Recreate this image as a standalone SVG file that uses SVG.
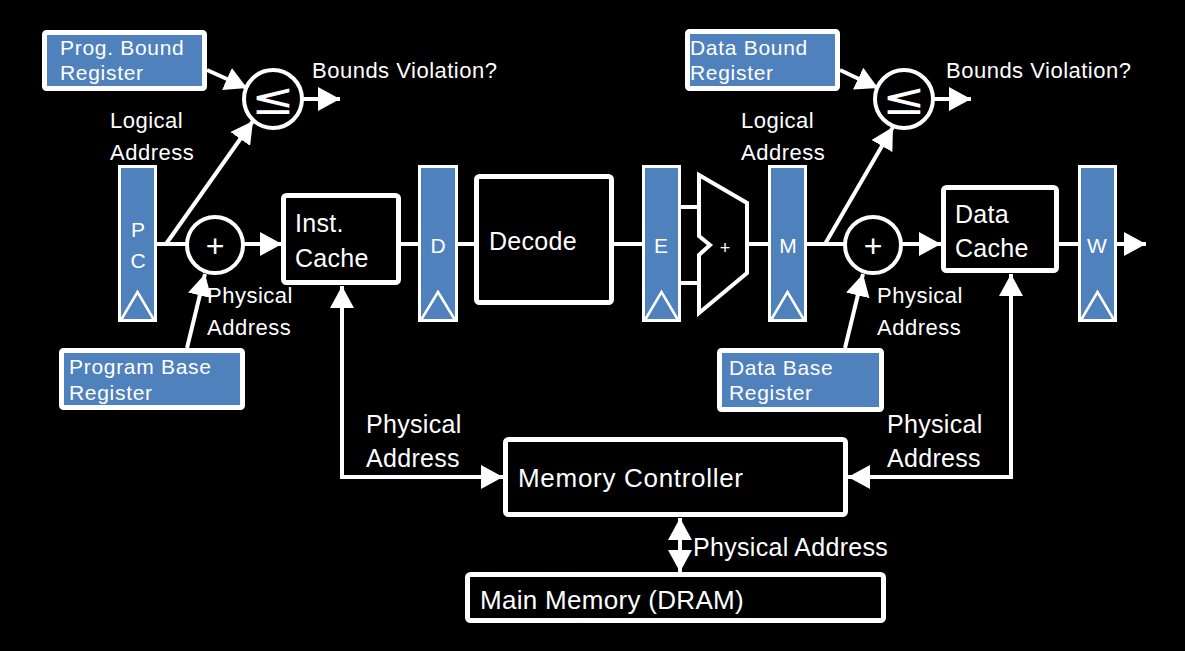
<svg xmlns="http://www.w3.org/2000/svg" width="1185" height="651" viewBox="0 0 1185 651">
<style>
  text { font-family: "Liberation Sans", Arial, sans-serif; fill: #ffffff; }
  .sm { font-size: 22px; letter-spacing: 0.5px; }
  .lg { font-size: 25px; letter-spacing: 0.3px; }
  .reg-t { font-size: 21px; letter-spacing: 0.7px; }
  .ltr { font-size: 21px; text-anchor: middle; }
  .blue { fill: #4F81BD; stroke: #ffffff; stroke-width: 5; }
  .blk { fill: #000000; stroke: #ffffff; stroke-width: 5; }
  .reg { fill: #4F81BD; stroke: #ffffff; stroke-width: 3; }
  .clk { fill: none; stroke: #ffffff; stroke-width: 2.5; }
  .op { fill: #000000; stroke: #ffffff; stroke-width: 4; }
  .sym { text-anchor: middle; }
  .le { font-family: "DejaVu Sans", sans-serif; font-size: 40px; text-anchor: middle; }
  .wire { fill: none; stroke: #ffffff; stroke-width: 4; }
  .arr { marker-end: url(#ah); }
  .arr2 { marker-start: url(#ah); marker-end: url(#ah); }
</style>
<defs>
  <marker id="ah" viewBox="0 0 22 24" refX="22" refY="12" markerWidth="22" markerHeight="24" markerUnits="userSpaceOnUse" orient="auto-start-reverse">
    <path d="M0,0 L22,12 L0,24 z" fill="#ffffff"/>
  </marker>
</defs>
<rect x="0" y="0" width="1185" height="651" fill="#000000"/>

<g id="connectors">
  <line class="wire arr" x1="207" y1="70" x2="247" y2="88"/>
  <line class="wire arr" x1="301" y1="99" x2="340" y2="99"/>
  <line class="wire" x1="157" y1="244" x2="188" y2="244"/>
  <line class="wire arr" x1="166" y1="244" x2="253" y2="121"/>
  <line class="wire arr" x1="243" y1="244" x2="282" y2="244"/>
  <line class="wire arr" x1="187" y1="348" x2="205" y2="274"/>
  <path class="wire arr2" d="M342,286 L342,477 L503,477"/>
  <line class="wire" x1="401" y1="244" x2="418" y2="244"/>
  <line class="wire" x1="458" y1="244" x2="474" y2="244"/>
  <line class="wire" x1="614" y1="244" x2="642" y2="244"/>
  <line class="wire" x1="681" y1="207" x2="699" y2="207"/>
  <line class="wire" x1="681" y1="283" x2="699" y2="283"/>
  <line class="wire" x1="747" y1="244" x2="768" y2="244"/>
  <line class="wire" x1="807" y1="244" x2="846" y2="244"/>
  <line class="wire arr" x1="825" y1="244" x2="893" y2="127"/>
  <line class="wire arr" x1="901" y1="244" x2="941" y2="244"/>
  <line class="wire arr" x1="845" y1="348" x2="863" y2="274"/>
  <line class="wire" x1="1059" y1="244" x2="1078" y2="244"/>
  <line class="wire arr" x1="1117" y1="244" x2="1146" y2="244"/>
  <path class="wire arr2" d="M1011,274 L1011,477 L848,477"/>
  <line class="wire arr" x1="840" y1="70" x2="878" y2="88"/>
  <line class="wire arr" x1="932" y1="99" x2="971" y2="99"/>
  <line class="wire arr2" x1="680" y1="518" x2="680" y2="572"/>
</g>

<g id="prog-bound-register">
  <rect class="blue" x="44.5" y="32.5" width="160" height="56" rx="2"/>
  <text class="reg-t" x="60" y="55">Prog. Bound</text>
  <text class="reg-t" x="60" y="80">Register</text>
</g>
<g id="prog-compare">
  <circle class="op" cx="273" cy="99" r="29"/>
  <text class="le" transform="translate(273,114) scale(1.3,1.1)" x="0" y="0">≤</text>
</g>
<g id="pc-register">
  <rect class="reg" x="119.5" y="166.5" width="36" height="154"/>
  <polyline class="clk" points="121,320 137.5,292 154,320"/>
  <text class="ltr" x="138" y="237">P</text>
  <text class="ltr" x="138" y="268">C</text>
</g>
<g id="prog-adder">
  <circle class="op" cx="215" cy="245" r="28"/>
  <text class="sym" x="215" y="257" style="font-size:32px">+</text>
</g>
<g id="program-base-register">
  <rect class="blue" x="61.5" y="350.5" width="181" height="57" rx="2"/>
  <text class="reg-t" x="69" y="374">Program Base</text>
  <text class="reg-t" x="69" y="400">Register</text>
</g>
<g id="inst-cache">
  <rect class="blk" x="283.5" y="195.5" width="115" height="87" rx="3"/>
  <text class="lg" x="295" y="232">Inst.</text>
  <text class="lg" x="295" y="267">Cache</text>
</g>
<g id="d-register">
  <rect class="reg" x="419.5" y="166.5" width="37" height="154"/>
  <polyline class="clk" points="421,320 438,292 455,320"/>
  <text class="ltr" x="438" y="253">D</text>
</g>
<g id="decode">
  <rect class="blk" x="476.5" y="176.5" width="135" height="126" rx="3"/>
  <text class="lg" x="489" y="250">Decode</text>
</g>
<g id="e-register">
  <rect class="reg" x="643.5" y="166.5" width="36" height="154"/>
  <polyline class="clk" points="645,320 661.5,292 678,320"/>
  <text class="ltr" x="661" y="253">E</text>
</g>
<g id="alu">
  <polygon class="op" points="699,175 747,203 747,273 699,313 699,255 710,245 699,236"/>
  <text class="sym" x="725" y="254" style="font-size:18px">+</text>
</g>
<g id="m-register">
  <rect class="reg" x="769.5" y="166.5" width="36" height="154"/>
  <polyline class="clk" points="771,320 787.5,292 804,320"/>
  <text class="ltr" x="788" y="253">M</text>
</g>
<g id="data-bound-register">
  <rect class="blue" x="687.5" y="31.5" width="150" height="57" rx="2"/>
  <text class="reg-t" x="690" y="55">Data Bound</text>
  <text class="reg-t" x="690" y="80">Register</text>
</g>
<g id="data-compare">
  <circle class="op" cx="904" cy="99" r="29"/>
  <text class="le" transform="translate(904,114) scale(1.3,1.1)" x="0" y="0">≤</text>
</g>
<g id="data-adder">
  <circle class="op" cx="873" cy="245" r="28"/>
  <text class="sym" x="873" y="257" style="font-size:32px">+</text>
</g>
<g id="data-base-register">
  <rect class="blue" x="719.5" y="350.5" width="162" height="59" rx="2"/>
  <text class="reg-t" x="729" y="375">Data Base</text>
  <text class="reg-t" x="729" y="400">Register</text>
</g>
<g id="data-cache">
  <rect class="blk" x="943.5" y="187.5" width="113" height="83" rx="3"/>
  <text class="lg" x="955" y="223">Data</text>
  <text class="lg" x="955" y="257">Cache</text>
</g>
<g id="w-register">
  <rect class="reg" x="1079.5" y="166.5" width="36" height="154"/>
  <polyline class="clk" points="1081,320 1097.5,292 1114,320"/>
  <text class="ltr" x="1097" y="253">W</text>
</g>
<g id="memory-controller">
  <rect class="blk" x="505.5" y="439.5" width="340" height="75" rx="3"/>
  <text class="lg" x="518" y="487" style="font-size:26px;letter-spacing:0.7px">Memory Controller</text>
</g>
<g id="main-memory">
  <rect class="blk" x="467.5" y="574.5" width="416" height="46" rx="3"/>
  <text class="lg" x="480" y="609" style="font-size:26px">Main Memory (DRAM)</text>
</g>

<g id="labels">
  <text class="sm" x="312" y="78">Bounds Violation?</text>
  <text class="sm" x="946" y="78">Bounds Violation?</text>
  <text class="sm" x="110" y="128">Logical</text>
  <text class="sm" x="110" y="160">Address</text>
  <text class="sm" x="741" y="128">Logical</text>
  <text class="sm" x="741" y="160">Address</text>
  <text class="sm" x="207" y="303">Physical</text>
  <text class="sm" x="207" y="335">Address</text>
  <text class="sm" x="877" y="303">Physical</text>
  <text class="sm" x="877" y="335">Address</text>
  <text class="lg" x="366" y="433">Physical</text>
  <text class="lg" x="366" y="467">Address</text>
  <text class="lg" x="887" y="433">Physical</text>
  <text class="lg" x="887" y="467">Address</text>
  <text class="lg" x="693" y="556">Physical Address</text>
</g>
</svg>
